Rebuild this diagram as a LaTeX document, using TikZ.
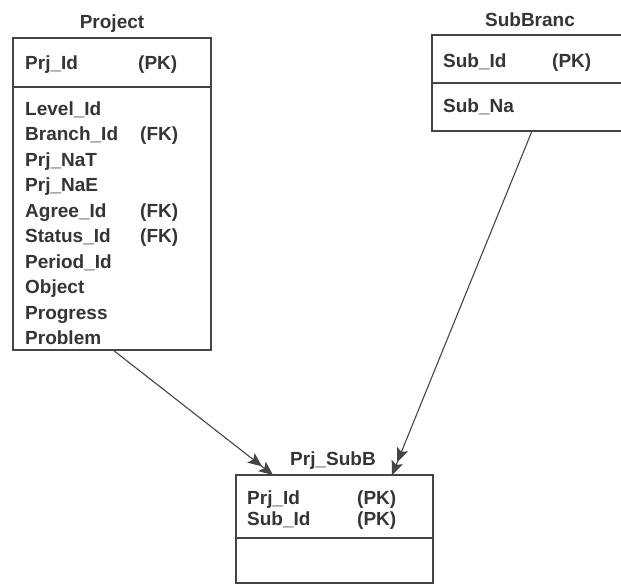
\documentclass[tikz,border=0pt]{standalone}
\usepackage{fontspec}
\setmainfont{Liberation Sans}
\usetikzlibrary{arrows.meta}
\definecolor{ink}{HTML}{353535}
\definecolor{edge}{HTML}{454545}
\tikzset{
  tbl/.style={draw=edge, line width=1.3pt, inner sep=0pt, outer sep=0pt, anchor=north west},
  txt/.style={text=ink, inner sep=0pt, anchor=base west, font=\fontsize{19}{21}\selectfont\bfseries},
  ttl/.style={text=ink, inner sep=0pt, anchor=base, font=\fontsize{19}{21}\selectfont\bfseries},
  divline/.style={draw=edge, line width=1.3pt},
  headtip/.style={},
  rel/.style={draw=edge, line width=1.1pt, -{Stealth[length=14pt,width=12pt,inset=3pt]Stealth[length=14pt,width=12pt,inset=3pt]}}
}
\begin{document}
\begin{tikzpicture}[x=1pt,y=-1pt]
\useasboundingbox (0,0) rectangle (621,586);
\fill[white] (0,0) rectangle (621,586);
\clip (0,0) rectangle (621,586);

% Project
\node[ttl] (tproj) at (112,29) {Project};
\node[tbl, minimum width=198pt, minimum height=312pt] (proj) at (13,38) {};
\draw[divline] (13,87) -- (211,87);
\node[txt] (p0) at (25,70) {Prj\_Id};
\node[txt] (p0k) at (138,70) {(PK)};
\node[txt] (p1) at (25,115) {Level\_Id};
\node[txt] (p2) at (25,140.5) {Branch\_Id};
\node[txt] (p2k) at (140,140.5) {(FK)};
\node[txt] (p3) at (25,166) {Prj\_NaT};
\node[txt] (p4) at (25,191.5) {Prj\_NaE};
\node[txt] (p5) at (25,217) {Agree\_Id};
\node[txt] (p5k) at (140,217) {(FK)};
\node[txt] (p6) at (25,242.5) {Status\_Id};
\node[txt] (p6k) at (140,242.5) {(FK)};
\node[txt] (p7) at (25,268) {Period\_Id};
\node[txt] (p8) at (25,293.5) {Object};
\node[txt] (p9) at (25,319) {Progress};
\node[txt] (p10) at (25,344.5) {Problem};

% SubBranc
\node[ttl] (tsub) at (530,27) {SubBranc};
\node[tbl, minimum width=220pt, minimum height=96pt] (sub) at (432,35) {};
\draw[divline] (432,83) -- (652,83);
\node[txt] (s0) at (443,67) {Sub\_Id};
\node[txt] (s0k) at (552,67) {(PK)};
\node[txt] (s1) at (443,112) {Sub\_Na};

% Prj_SubB
\node[ttl] (tpsb) at (333,465) {Prj\_SubB};
\node[tbl, minimum width=197pt, minimum height=108pt] (psb) at (236,475) {};
\draw[divline] (236,538) -- (433,538);
\node[txt] (b0) at (247,504) {Prj\_Id};
\node[txt] (b0k) at (357,504) {(PK)};
\node[txt] (b1) at (247,525) {Sub\_Id};
\node[txt] (b1k) at (357,525) {(PK)};

% connectors
\coordinate (a1s) at (113,350);
\coordinate (a1e) at (273,475);
\coordinate (a2s) at (532,131);
\coordinate (a2e) at (392,475);
\draw[rel] (a1s) -- (a1e);
\draw[rel] (a2s) -- (a2e);
\end{tikzpicture}
\end{document}
